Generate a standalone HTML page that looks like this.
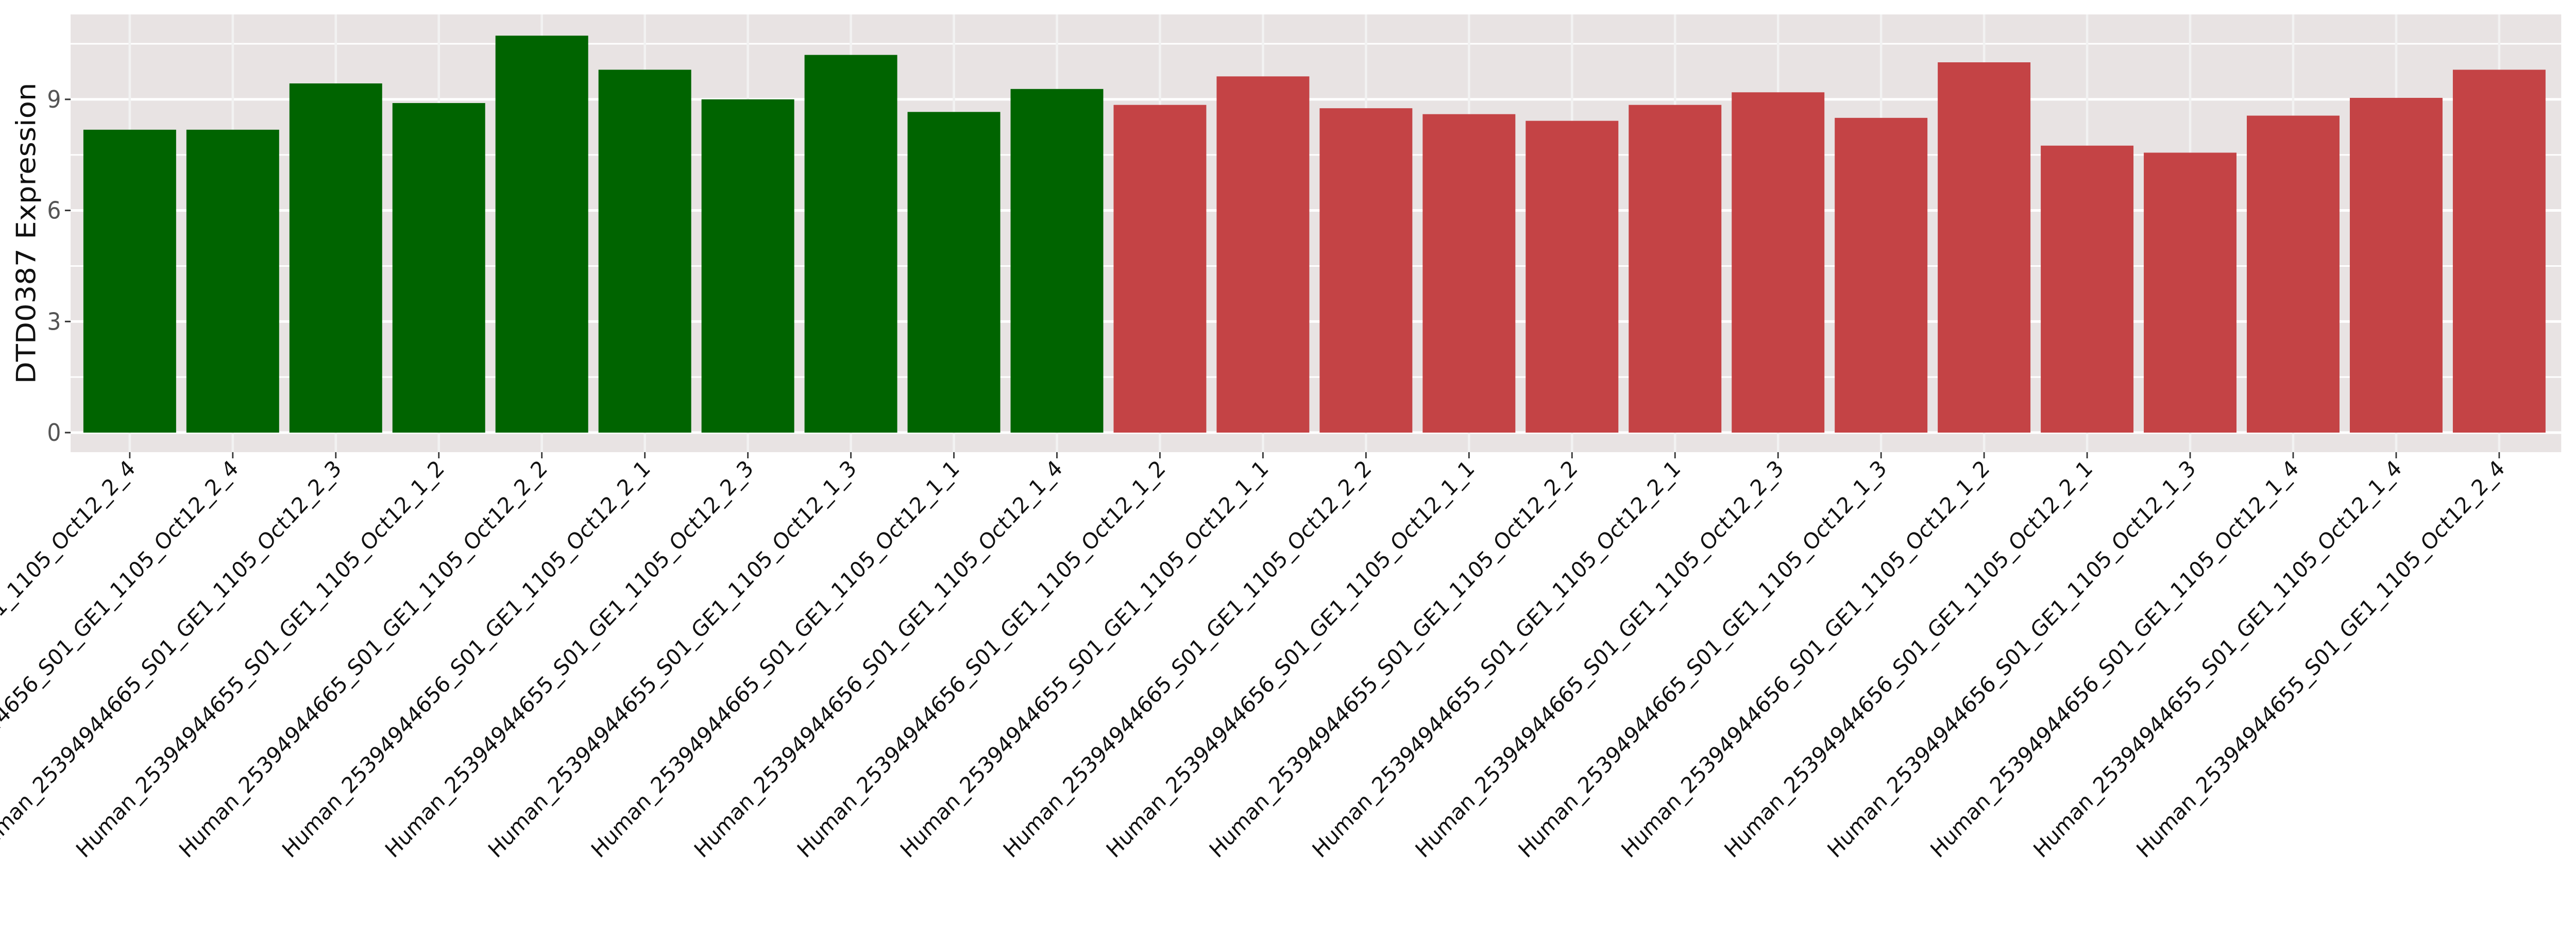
<!DOCTYPE html>
<html><head><meta charset="utf-8"><style>
html,body{margin:0;padding:0;background:#fff;overflow:hidden;width:100%;height:100%}
svg{display:block;width:100vw;height:100vh}
text{font-family:"DejaVu Sans","Liberation Sans",sans-serif}
</style></head><body>
<svg id="chart" viewBox="0 0 5400 1800" preserveAspectRatio="none" xmlns="http://www.w3.org/2000/svg">
<rect x="148" y="28" width="5221" height="850" fill="#e8e3e3"/>
<g id="grid"></g>
<g id="bars"></g>
<g id="yaxis"></g>
<g id="xaxis"></g>
<text x="0" y="0" transform="translate(74,453) rotate(-90)" text-anchor="middle" font-size="56" fill="#111">DTD0387 Expression</text>
</svg>
<script>
const categories = [
"Human_25394944665_S01_GE1_1105_Oct12_2_4",
"Human_25394944656_S01_GE1_1105_Oct12_2_4",
"Human_25394944665_S01_GE1_1105_Oct12_2_3",
"Human_25394944655_S01_GE1_1105_Oct12_1_2",
"Human_25394944665_S01_GE1_1105_Oct12_2_2",
"Human_25394944656_S01_GE1_1105_Oct12_2_1",
"Human_25394944655_S01_GE1_1105_Oct12_2_3",
"Human_25394944655_S01_GE1_1105_Oct12_1_3",
"Human_25394944665_S01_GE1_1105_Oct12_1_1",
"Human_25394944656_S01_GE1_1105_Oct12_1_4",
"Human_25394944656_S01_GE1_1105_Oct12_1_2",
"Human_25394944655_S01_GE1_1105_Oct12_1_1",
"Human_25394944665_S01_GE1_1105_Oct12_2_2",
"Human_25394944656_S01_GE1_1105_Oct12_1_1",
"Human_25394944655_S01_GE1_1105_Oct12_2_2",
"Human_25394944655_S01_GE1_1105_Oct12_2_1",
"Human_25394944665_S01_GE1_1105_Oct12_2_3",
"Human_25394944665_S01_GE1_1105_Oct12_1_3",
"Human_25394944656_S01_GE1_1105_Oct12_1_2",
"Human_25394944656_S01_GE1_1105_Oct12_2_1",
"Human_25394944656_S01_GE1_1105_Oct12_1_3",
"Human_25394944656_S01_GE1_1105_Oct12_1_4",
"Human_25394944655_S01_GE1_1105_Oct12_1_4",
"Human_25394944655_S01_GE1_1105_Oct12_2_4"];
const values = [8.18,8.18,9.43,8.9,10.72,9.8,9.0,10.2,8.66,9.28,8.85,9.62,8.76,8.6,8.42,8.85,9.19,8.5,10.0,7.75,7.56,8.56,9.04,9.8];
const groups = ["g","g","g","g","g","g","g","g","g","g","r","r","r","r","r","r","r","r","r","r","r","r","r","r"];
const yTicks = [0,3,6,9];
const yMinor = [1.5,4.5,7.5,10.5];
const yTickLabels = ["0","3","6","9"];

const NS="http://www.w3.org/2000/svg";
const PL=148, PR=5369, PT=28, PB=878;
const Y0=840, PXU=71.9;
function y(v){return Y0 - v*PXU;}
const step=(5239-272)/(categories.length-1);
function x(i){return 272 + i*step;}
const bw=step*0.9;
const colors={g:"#006400",r:"#c44345"};
function mk(tag,attrs,parent){const e=document.createElementNS(NS,tag);for(const k in attrs)e.setAttribute(k,attrs[k]);parent.appendChild(e);return e;}
const grid=document.getElementById('grid'), bars=document.getElementById('bars'), ya=document.getElementById('yaxis'), xa=document.getElementById('xaxis');
yMinor.forEach(v=>{const l=mk('line',{x1:PL,x2:PR,y1:y(v),y2:y(v),stroke:"#fff","stroke-width":3},grid);

});
yTicks.forEach((v,i)=>{const l=mk('line',{x1:PL,x2:PR,y1:y(v),y2:y(v),stroke:"#fff","stroke-width":5},grid);


const t=mk('line',{x1:PL-12,x2:PL,y1:y(v),y2:y(v),stroke:"#333","stroke-width":3},ya);


const tx=mk('text',{x:PL-20,y:y(v)+16,"text-anchor":"end","font-size":46,fill:"#555"},ya);
tx.textContent=yTickLabels[i];

});
categories.forEach((c,i)=>{const l=mk('line',{x1:x(i),x2:x(i),y1:PT,y2:PB,stroke:"#f2f2f2","stroke-width":5},grid);

});
values.forEach((v,i)=>{const b=mk('rect',{x:x(i)-bw/2,y:y(v),width:bw,height:Y0-y(v),fill:colors[groups[i]]},bars);

});
categories.forEach((c,i)=>{const t=mk('line',{x1:x(i),x2:x(i),y1:PB,y2:PB+12,stroke:"#333","stroke-width":3},xa);


const tx=mk('text',{x:x(i)+14,y:PB+34,"text-anchor":"end","font-size":43,fill:"#111",transform:`rotate(-45 ${x(i)+14} ${PB+34})`},xa);
tx.textContent=c;

});
</script>
</body></html>
